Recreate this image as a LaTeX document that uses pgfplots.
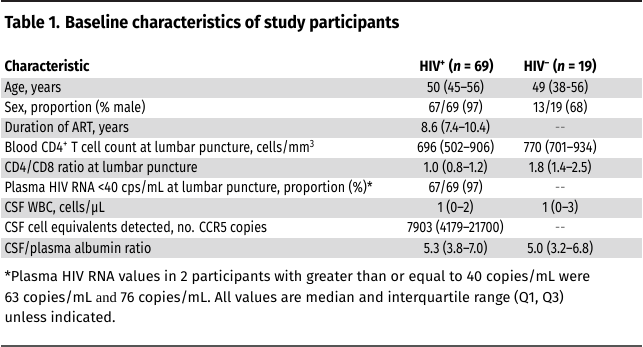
\documentclass[border=0pt]{standalone}
\usepackage{pgfplots}
\pgfplotsset{compat=1.18}
\usepackage{fontspec}
\setmainfont{Fira Sans}[FakeStretch=0.84]
\newfontfamily\fnfont{Fira Sans}
\newfontfamily\titlefont{Fira Sans}[FakeStretch=0.93]
\newfontfamily\headfont{Fira Sans}[FakeStretch=0.9]
\newfontfamily\serifand{Liberation Serif}
\definecolor{band}{RGB}{219,219,220}
\definecolor{ink}{RGB}{35,31,32}
\definecolor{rulegray}{RGB}{85,85,85}
\definecolor{dashgray}{RGB}{120,120,120}
\begin{document}
\begin{tikzpicture}
\begin{axis}[
  width=643pt, height=421pt, scale only axis,
  xmin=0, xmax=643, ymin=0, ymax=421, y dir=reverse,
  axis lines=none, clip=false,
  every node/.style={inner sep=0pt, text=ink},
]
% shaded rows (top, bottom of each band)
\addplot[fill=band, draw=none] coordinates {(0,78) (643,78) (643,98.1) (0,98.1)} --cycle;
\addplot[fill=band, draw=none] coordinates {(0,118.2) (643,118.2) (643,138.3) (0,138.3)} --cycle;
\addplot[fill=band, draw=none] coordinates {(0,158.4) (643,158.4) (643,178.5) (0,178.5)} --cycle;
\addplot[fill=band, draw=none] coordinates {(0,198.6) (643,198.6) (643,218.7) (0,218.7)} --cycle;
\addplot[fill=band, draw=none] coordinates {(0,238.8) (643,238.8) (643,258.9) (0,258.9)} --cycle;
% rules
\addplot[draw=ink, line width=2pt] coordinates {(0,1) (643,1)};
\addplot[draw=rulegray, line width=1.5pt] coordinates {(0,347) (643,347)};
% title
\node[anchor=base west, font=\fontsize{17.5}{19}\selectfont\titlefont\bfseries] at (axis cs:0,29) {Table 1. Baseline characteristics of study participants};
% header
\begin{scope}[every node/.append style={font=\fontsize{15}{17}\selectfont\headfont\bfseries}]
\node[anchor=base west] at (axis cs:0,72) {Characteristic};
\node[anchor=base] at (axis cs:457,72) {HIV\textsuperscript{+} (\textit{n} = 69)};
\node[anchor=base] at (axis cs:561,72) {HIV\textsuperscript{\textendash} (\textit{n} = 19)};
\end{scope}
% rows
\begin{scope}[every node/.append style={font=\fontsize{15}{17}\selectfont}]
\node[anchor=base west] at (axis cs:0,93) {Age, years};
\node[anchor=base] at (axis cs:456,93) {50 (45\textendash56)};
\node[anchor=base] at (axis cs:561,93) {49 (38-56)};
\node[anchor=base west] at (axis cs:0,113.1) {Sex, proportion (\% male)};
\node[anchor=base] at (axis cs:456,113.1) {67/69 (97)};
\node[anchor=base] at (axis cs:561,113.1) {13/19 (68)};
\node[anchor=base west] at (axis cs:0,133.2) {Duration of ART, years};
\node[anchor=base] at (axis cs:456,133.2) {8.6 (7.4\textendash10.4)};
\node[anchor=base, text=dashgray] at (axis cs:561,133.2) {-{}-};
\node[anchor=base west] at (axis cs:0,153.3) {Blood CD4\textsuperscript{+} T cell count at lumbar puncture, cells/mm\textsuperscript{3}};
\node[anchor=base] at (axis cs:456,153.3) {696 (502\textendash906)};
\node[anchor=base] at (axis cs:561,153.3) {770 (701\textendash934)};
\node[anchor=base west] at (axis cs:0,173.4) {CD4/CD8 ratio at lumbar puncture};
\node[anchor=base] at (axis cs:456,173.4) {1.0 (0.8\textendash1.2)};
\node[anchor=base] at (axis cs:561,173.4) {1.8 (1.4\textendash2.5)};
\node[anchor=base west] at (axis cs:0,193.5) {Plasma HIV RNA <40 cps/mL at lumbar puncture, proportion (\%)*};
\node[anchor=base] at (axis cs:456,193.5) {67/69 (97)};
\node[anchor=base, text=dashgray] at (axis cs:561,193.5) {-{}-};
\node[anchor=base west] at (axis cs:0,213.6) {CSF WBC, cells/μL};
\node[anchor=base] at (axis cs:456,213.6) {1 (0\textendash2)};
\node[anchor=base] at (axis cs:561,213.6) {1 (0\textendash3)};
\node[anchor=base west] at (axis cs:0,233.7) {CSF cell equivalents detected, no. CCR5 copies};
\node[anchor=base] at (axis cs:456,233.7) {7903 (4179\textendash21700)};
\node[anchor=base, text=dashgray] at (axis cs:561,233.7) {-{}-};
\node[anchor=base west] at (axis cs:0,253.8) {CSF/plasma albumin ratio};
\node[anchor=base] at (axis cs:456,253.8) {5.3 (3.8\textendash7.0)};
\node[anchor=base] at (axis cs:561,253.8) {5.0 (3.2\textendash6.8)};
\end{scope}
% footnote
\begin{scope}[every node/.append style={font=\fontsize{14.5}{17}\selectfont\fnfont}]
\node[anchor=base west] at (axis cs:0,282) {*Plasma HIV RNA values in 2 participants with greater than or equal to 40 copies/mL were};
\node[anchor=base west] at (axis cs:0,303) {63 copies/mL {\serifand and} 76 copies/mL. All values are median and interquartile range (Q1, Q3)};
\node[anchor=base west] at (axis cs:0,324) {unless indicated.};
\end{scope}
\end{axis}
\end{tikzpicture}
\end{document}
